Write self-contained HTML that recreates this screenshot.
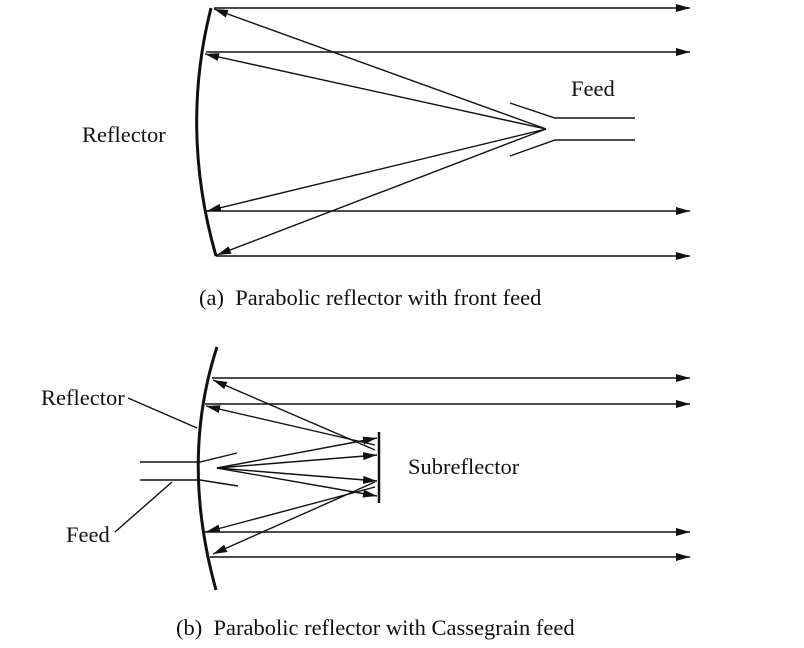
<!DOCTYPE html>
<html><head><style>body{margin:0;background:#fff}svg{display:block}text{font-family:"Liberation Serif",serif;font-size:22.5px;fill:#111}</style></head><body>
<svg width="804" height="648" viewBox="0 0 804 648">
<defs><marker id="a" viewBox="0 0 14 8" refX="14" refY="4" markerWidth="14" markerHeight="8" orient="auto" markerUnits="userSpaceOnUse"><path d="M0,0L14,4L0,8z" fill="#111"/></marker></defs>
<g stroke="#111" stroke-width="1.4" fill="none">
<path d="M211,8 Q180,130 216,256" stroke-width="3"/>
<line x1="214" y1="8" x2="690" y2="8" marker-end="url(#a)"/>
<line x1="206" y1="52" x2="690" y2="52" marker-end="url(#a)"/>
<line x1="206" y1="211" x2="690" y2="211" marker-end="url(#a)"/>
<line x1="216" y1="256" x2="690" y2="256" marker-end="url(#a)"/>
<line x1="546" y1="129" x2="214" y2="9" marker-end="url(#a)"/>
<line x1="546" y1="129" x2="205" y2="54" marker-end="url(#a)"/>
<line x1="546" y1="129" x2="207" y2="211" marker-end="url(#a)"/>
<line x1="546" y1="129" x2="217" y2="255" marker-end="url(#a)"/>
<polyline points="510,103 555,118 635,118"/>
<polyline points="510,156 555,140 635,140"/>
<path d="M217,347 Q180,460 216,590" stroke-width="3"/>
<line x1="212" y1="378" x2="690" y2="378" marker-end="url(#a)"/>
<line x1="205" y1="404" x2="690" y2="404" marker-end="url(#a)"/>
<line x1="205" y1="532" x2="690" y2="532" marker-end="url(#a)"/>
<line x1="210" y1="557" x2="690" y2="557" marker-end="url(#a)"/>
<line x1="379" y1="432" x2="379" y2="503" stroke-width="2.5"/>
<line x1="375" y1="450" x2="213" y2="380" marker-end="url(#a)"/>
<line x1="375" y1="445" x2="206" y2="406" marker-end="url(#a)"/>
<line x1="375" y1="487" x2="206" y2="532" marker-end="url(#a)"/>
<line x1="375" y1="482" x2="213" y2="554" marker-end="url(#a)"/>
<line x1="217" y1="468" x2="377" y2="438" marker-end="url(#a)"/>
<line x1="217" y1="468" x2="377" y2="455" marker-end="url(#a)"/>
<line x1="217" y1="468" x2="377" y2="481" marker-end="url(#a)"/>
<line x1="217" y1="468" x2="377" y2="496" marker-end="url(#a)"/>
<polyline points="140,462 200,462 237,453"/>
<polyline points="140,480 200,480 238,486"/>
<line x1="128" y1="398" x2="197" y2="428"/>
<line x1="115" y1="532" x2="172" y2="482"/>
</g>
<text x="82" y="142">Reflector</text>
<text x="571" y="96">Feed</text>
<text x="199" y="305" xml:space="preserve">(a)  Parabolic reflector with front feed</text>
<text x="408" y="474">Subreflector</text>
<text x="41" y="405">Reflector</text>
<text x="66" y="542">Feed</text>
<text x="176" y="635" xml:space="preserve">(b)  Parabolic reflector with Cassegrain feed</text>
</svg>
</body></html>
